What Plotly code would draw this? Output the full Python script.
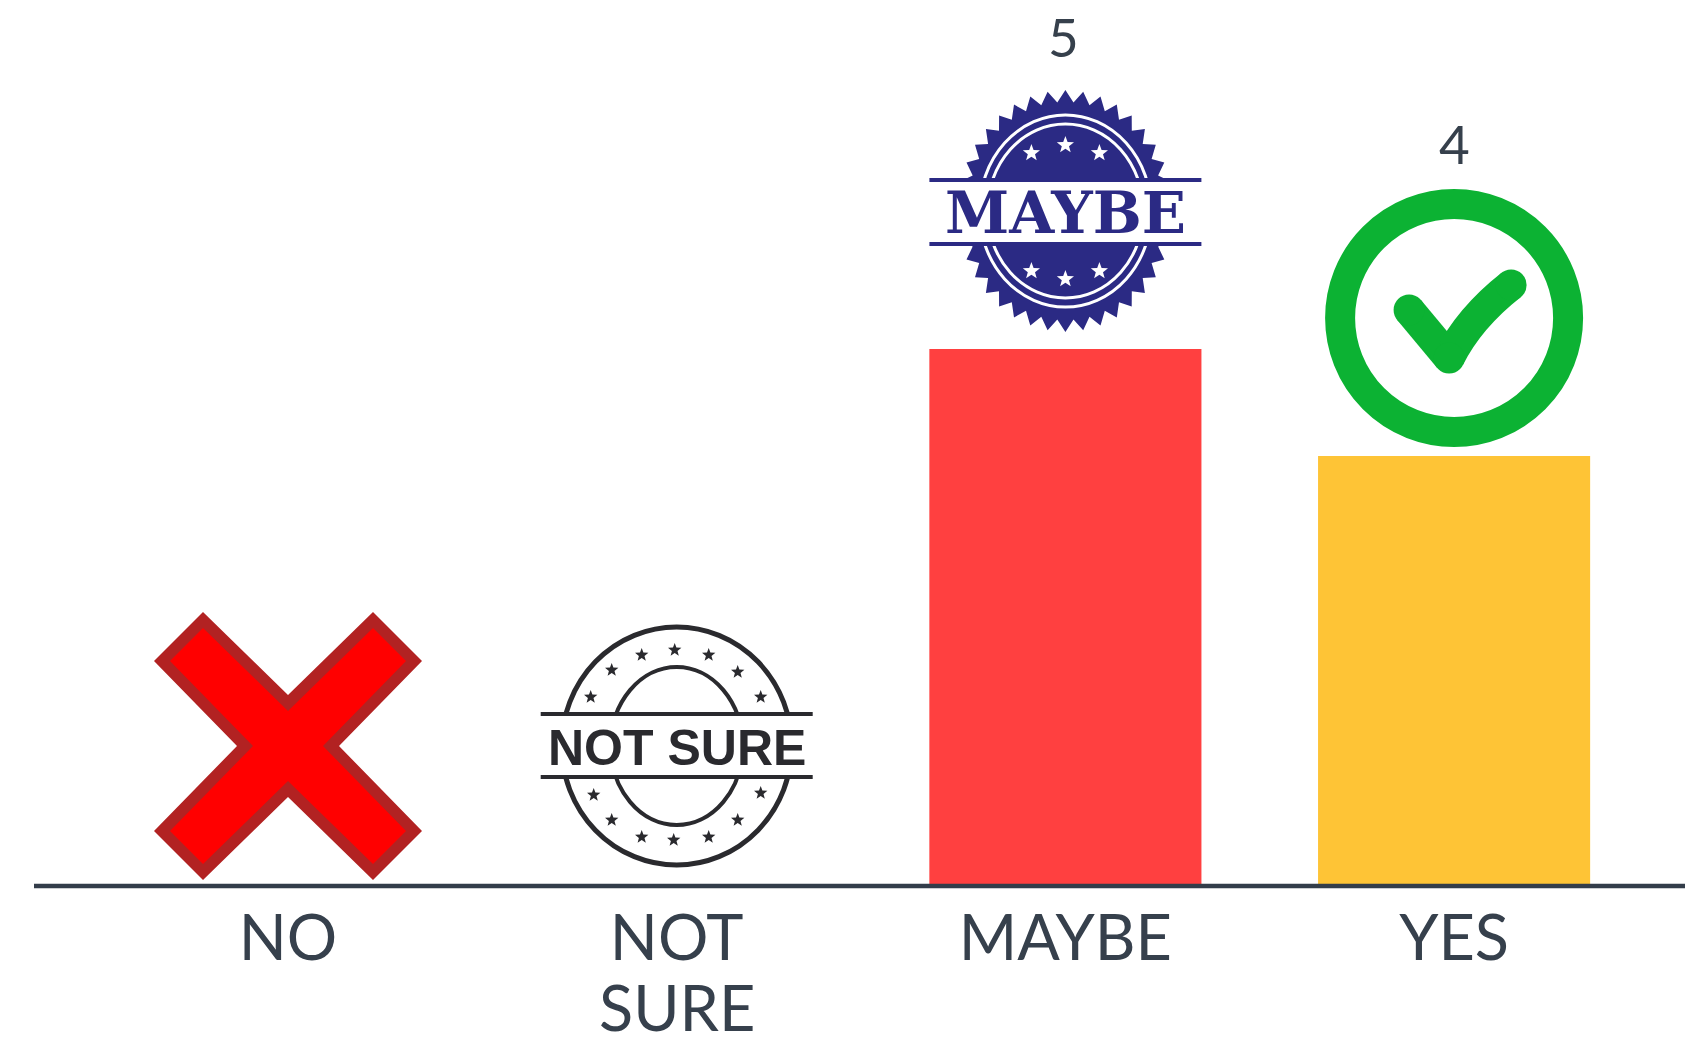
import math
import plotly.graph_objects as go

categories = ["NO", "NOT SURE", "MAYBE", "YES"]
values = [0, 0, 5, 4]
bar_colors = ["#FF4040", "#FF4040", "#FF4040", "#FEC436"]
tick_first_lines = ["NO", "NOT", "MAYBE", "YES"]
tick_second_line = "SURE"
shown_labels = {"MAYBE": "5", "YES": "4"}

W, H = 1685, 1038
ML, MB = 34, 154
BASE_PX = 884
UNIT_PX = 107
CX0, STEP = 288, 388.7
ICON_UP = 138
INK = "#36404C"
LABEL_FONT = "Lato"


def val(cat):
    return values[categories.index(cat)]


def poly(points):
    return "M " + " L ".join(f"{x:.1f} {y + ICON_UP:.1f}" for x, y in points) + " Z"


def icon_path(cat, path, fill, line_color=None, line_width=0):
    return dict(type="path", path=path, xref="x", yref="y", xsizemode="pixel", ysizemode="pixel",
                xanchor=cat, yanchor=val(cat), fillcolor=fill,
                line=dict(color=line_color or "rgba(0,0,0,0)", width=line_width))


def icon_ellipse(cat, cx, cy, rx, ry, fill="rgba(0,0,0,0)", color=None, width=0):
    return dict(type="circle", xref="x", yref="y", xsizemode="pixel", ysizemode="pixel",
                xanchor=cat, yanchor=val(cat), x0=cx - rx, x1=cx + rx,
                y0=cy - ry + ICON_UP, y1=cy + ry + ICON_UP, fillcolor=fill,
                line=dict(color=color or "rgba(0,0,0,0)", width=width))


def icon_rect(cat, x0, x1, y0, y1, fill):
    return icon_path(cat, poly([(x0, y0), (x1, y0), (x1, y1), (x0, y1)]), fill)


def star(cx, cy, r):
    pts = []
    for i in range(10):
        a = math.pi / 2 + i * math.pi / 5
        rr = r if i % 2 == 0 else r * 0.42
        pts.append((cx + rr * math.cos(a), cy + rr * math.sin(a)))
    return poly(pts)


def cross_outline(a, b, n):
    return [(-a, b), (0, n), (a, b), (b, a), (n, 0), (b, -a),
            (a, -b), (0, -n), (-a, -b), (-b, -a), (-n, 0), (-b, a)]


shapes = []

# baseline under the bars
shapes.append(dict(type="line", xref="paper", yref="paper", x0=0, x1=1, y0=-2 / BASE_PX, y1=-2 / BASE_PX,
                   line=dict(color="#333D4A", width=4.5)))

# NO : red cross
shapes.append(icon_path("NO", poly(cross_outline(85, 134, 51)), "#B22222"))
shapes.append(icon_path("NO", poly(cross_outline(85, 118, 35)), "#FF0000"))

# NOT SURE : black stamp
STAMP_BLACK = "#2A2A2E"
shapes.append(icon_ellipse("NOT SURE", 0, 0, 115, 119, color=STAMP_BLACK, width=5))
shapes.append(icon_ellipse("NOT SURE", 0, 0, 66, 79, color=STAMP_BLACK, width=4))
shapes.append(icon_rect("NOT SURE", -140, 140, -32, 32, "#FFFFFF"))
for y in (-31, 32):
    shapes.append(icon_rect("NOT SURE", -136, 136, y - 2, y + 2, STAMP_BLACK))
for dx, dy in [(-2, 96), (-35, 91), (32, 91), (61, 74), (-65, 76), (-86, 49), (84, 49),
               (-83, -49), (84, -47), (-65, -74), (61, -74), (-35, -91), (-3, -94), (32, -91)]:
    shapes.append(icon_path("NOT SURE", star(dx, dy, 7), STAMP_BLACK))

# MAYBE : navy seal
NAVY = "#2B2A84"
teeth = []
n_teeth = 38
for i in range(n_teeth * 2):
    a = i * math.pi / n_teeth
    rx, ry = (108, 121) if i % 2 == 0 else (98, 109)
    teeth.append((rx * math.sin(a), ry * math.cos(a)))
shapes.append(icon_path("MAYBE", poly(teeth), NAVY))
shapes.append(icon_ellipse("MAYBE", 0, 0, 86, 96, color="#FFFFFF", width=3))
shapes.append(icon_ellipse("MAYBE", 0, 0, 78, 87, color="#FFFFFF", width=3))
shapes.append(icon_rect("MAYBE", -140, 140, -33, 33, "#FFFFFF"))
for y in (-33, 31):
    shapes.append(icon_rect("MAYBE", -136, 136, y - 2, y + 2, NAVY))
for dx, dy in [(-34, 58), (0, 66), (34, 58), (-34, -60), (0, -68), (34, -60)]:
    shapes.append(icon_path("MAYBE", star(dx, dy, 9), "#FFFFFF"))

# YES : green check in a ring
GREEN = "#0CB233"
shapes.append(icon_ellipse("YES", 0, 0, 114, 114, color=GREEN, width=30))
U = ICON_UP
shapes.append(icon_path("YES", f"M -45 {8 + U} L -5 {-40 + U}", "rgba(0,0,0,0)", GREEN, 31))
shapes.append(icon_path("YES", f"M -5 {-40 + U} Q 15 {0 + U} 57 {33 + U}", "rgba(0,0,0,0)", GREEN, 31))
for cx, cy in [(-45, 8), (-5, -40), (57, 33)]:
    shapes.append(icon_ellipse("YES", cx, cy, 15.5, 15.5, fill=GREEN))

annotations = []
for cat, text in shown_labels.items():
    annotations.append(dict(x=cat, y=val(cat), xref="x", yref="y", text=text, showarrow=False,
                            yshift=313, xshift=-2 if cat == "MAYBE" else 0,
                            font=dict(family=LABEL_FONT, size=53, color=INK)))
annotations.append(dict(x="NOT SURE", y=0, xref="x", yref="paper", yanchor="middle", text=tick_second_line,
                        showarrow=False, yshift=-122, font=dict(family=LABEL_FONT, size=63, color=INK)))
annotations.append(dict(x="NOT SURE", y=val("NOT SURE"), xref="x", yref="y", text="NOT SURE", showarrow=False,
                        yshift=ICON_UP - 2, font=dict(family="Liberation Sans", size=50, color=STAMP_BLACK, weight=700)))
annotations.append(dict(x="MAYBE", y=val("MAYBE"), xref="x", yref="y", text="MAYBE", showarrow=False,
                        yshift=ICON_UP - 2, font=dict(family="DejaVu Serif", size=58, color=NAVY, weight=700)))

fig = go.Figure(go.Bar(x=categories, y=values, width=0.7, marker=dict(color=bar_colors, line=dict(width=0)),
                       hoverinfo="skip"))
fig.update_layout(
    width=W, height=H, autosize=False, showlegend=False,
    margin=dict(l=ML, r=0, t=0, b=MB, pad=0),
    paper_bgcolor="#FFFFFF", plot_bgcolor="#FFFFFF",
    shapes=shapes, annotations=annotations,
    xaxis=dict(type="category", categoryorder="array", categoryarray=categories,
               range=[-(CX0 - ML) / STEP, (W - CX0) / STEP],
               tickmode="array", tickvals=categories, ticktext=tick_first_lines,
               tickfont=dict(family=LABEL_FONT, size=63, color=INK),
               showline=False, showgrid=False, zeroline=False,
               ticks="", ticklabelstandoff=12, automargin=False,
               anchor="free", position=0),
    yaxis=dict(range=[0, BASE_PX / UNIT_PX], visible=False, showgrid=False, zeroline=False),
)
fig.write_html("out.html", config={"displayModeBar": False},
               post_script="document.body.style.margin='0';document.body.style.overflow='hidden';")
